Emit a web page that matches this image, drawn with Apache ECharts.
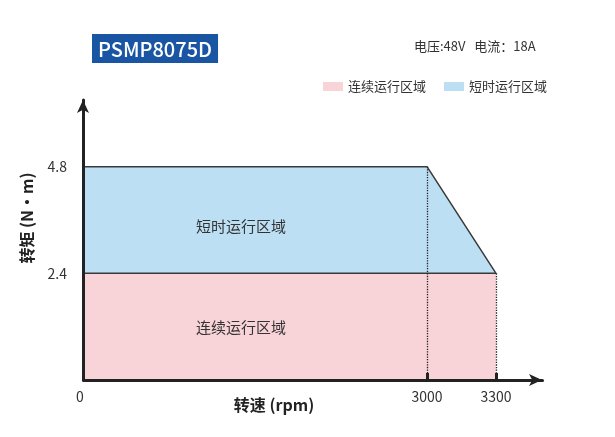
<!DOCTYPE html>
<html lang="zh" style="height: 100%">
<head>
    <meta charset="utf-8">
    <title>PSMP8075D</title>
    <script src="https://cdn.jsdelivr.net/npm/echarts@6.0.0/dist/echarts.min.js"></script>
</head>
<body style="height: 100%; margin: 0; background: #fff">
<div id="container" style="width: 615px; height: 437px"></div>
<script type="text/javascript">
    // 转速 (rpm) / 转矩 (N·m)
    var speedTicks = [0, 3000, 3300];
    var torqueTicks = [2.4, 4.8];
    // 短时运行区域 outline
    var shortTermPoints = [[0, 4.8], [3000, 4.8], [3300, 2.4]];
    // 连续运行区域 outline
    var continuousPoints = [[0, 2.4], [3300, 2.4]];
    var seriesNames = ['连续运行区域', '短时运行区域'];

    var font = '"Noto Sans CJK SC", "Noto Sans", sans-serif';
    var lineColor = '#3a3a3a';

    var dom = document.getElementById('container');
    var myChart = echarts.init(dom, null, {renderer: 'canvas'});

    var option = {
        animation: false,
        textStyle: {fontFamily: font},
        title: [
            {
                text: 'PSMP8075D',
                left: 92,
                top: 34,
                padding: [5, 6, 4, 6],
                backgroundColor: '#1a55a4',
                textStyle: {color: '#fff', fontSize: 20, fontWeight: 500, fontFamily: font}
            },
            {
                text: '电压:48V   电流：18A',
                left: 414,
                top: 40,
                padding: 0,
                textStyle: {color: '#333', fontSize: 13, fontWeight: 'normal', fontFamily: font}
            }
        ],
        legend: {
            left: 318,
            top: 75,
            icon: 'rect',
            itemWidth: 20,
            itemHeight: 9,
            itemGap: 18,
            textStyle: {color: '#333', fontSize: 13, fontFamily: font},
            data: seriesNames
        },
        grid: {left: 83, right: 73, top: 100, bottom: 57},
        xAxis: {
            type: 'value',
            min: 0,
            max: 3500,
            z: 10,
            breaks: [{start: 400, end: 1904, gap: 0}],
            breakArea: {show: false},
            splitLine: {show: false},
            axisLine: {
                show: true,
                symbol: ['none', 'arrow'],
                symbolSize: [9, 13],
                lineStyle: {color: '#222', width: 3}
            },
            axisTick: {
                show: true,
                inside: true,
                length: 7,
                customValues: [3000, 3300],
                lineStyle: {color: '#222', width: 3}
            },
            axisLabel: {
                customValues: speedTicks,
                formatter: function (v) {
                    return v === 0 ? '0  ' : String(v);
                },
                color: '#333',
                fontSize: 14,
                margin: 10,
                fontFamily: font
            }
        },
        yAxis: {
            type: 'value',
            min: 0,
            max: 6.3,
            z: 10,
            splitLine: {show: false},
            axisLine: {
                show: true,
                symbol: ['none', 'arrow'],
                symbolSize: [9, 13],
                lineStyle: {color: '#222', width: 3}
            },
            axisTick: {show: false},
            axisLabel: {
                customValues: torqueTicks,
                color: '#333',
                fontSize: 14,
                margin: 16,
                fontFamily: font
            }
        },
        graphic: [
            {
                type: 'text',
                x: 27,
                y: 218,
                rotation: Math.PI / 2,
                style: {
                    text: '转矩 (N·m)',
                    font: 'bold 16px ' + font,
                    fill: '#222',
                    align: 'center',
                    verticalAlign: 'middle'
                }
            },
            {
                type: 'text',
                x: 274,
                y: 405,
                style: {
                    text: '转速 (rpm)',
                    font: 'bold 16px ' + font,
                    fill: '#222',
                    align: 'center',
                    verticalAlign: 'middle'
                }
            },
            {
                type: 'text',
                x: 241,
                y: 226,
                z: 10,
                style: {
                    text: '短时运行区域',
                    font: '15px ' + font,
                    fill: '#333',
                    align: 'center',
                    verticalAlign: 'middle'
                }
            },
            {
                type: 'text',
                x: 241,
                y: 327,
                z: 10,
                style: {
                    text: '连续运行区域',
                    font: '15px ' + font,
                    fill: '#333',
                    align: 'center',
                    verticalAlign: 'middle'
                }
            }
        ],
        series: [
            {
                name: seriesNames[1],
                type: 'line',
                data: shortTermPoints,
                symbol: 'none',
                itemStyle: {color: '#bcdff4'},
                lineStyle: {color: lineColor, width: 1.5},
                areaStyle: {color: '#bcdff4', opacity: 1},
                markLine: {
                    silent: true,
                    symbol: 'none',
                    label: {show: false},
                    lineStyle: {color: '#222', type: 'dotted', width: 1.3},
                    data: [
                        [{coord: [3000, 4.8]}, {coord: [3000, 0]}],
                        [{coord: [3300, 2.4]}, {coord: [3300, 0]}]
                    ],
                    z: 5
                }
            },
            {
                name: seriesNames[0],
                type: 'line',
                data: continuousPoints,
                symbol: 'none',
                itemStyle: {color: '#f8d3d8'},
                lineStyle: {color: lineColor, width: 1.5},
                areaStyle: {color: '#f8d3d8', opacity: 1}
            }
        ]
    };

    myChart.setOption(option);
    window.addEventListener('resize', myChart.resize);
</script>
</body>
</html>
